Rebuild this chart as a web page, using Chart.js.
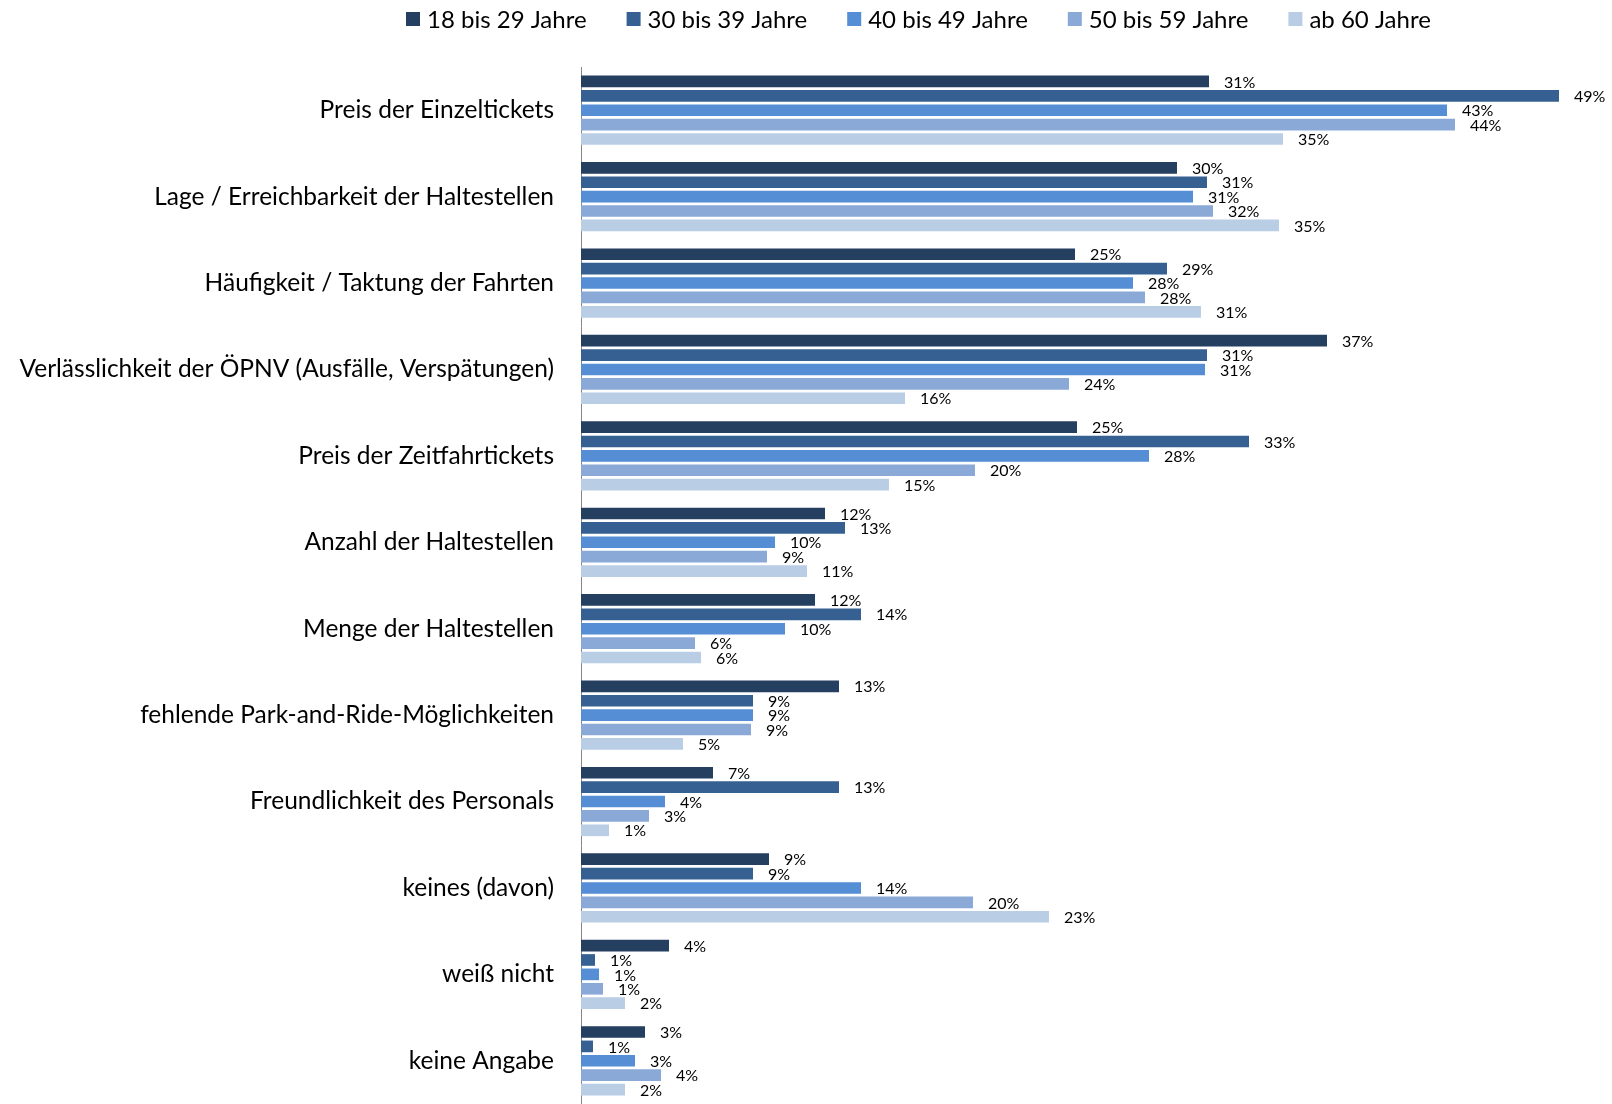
<!DOCTYPE html>
<html lang="de">
<head>
<meta charset="utf-8">
<title>Gründe nach Altersgruppen</title>
<script src="https://cdn.jsdelivr.net/npm/chart.js@4.4.0/dist/chart.umd.min.js"></script>
<style>
  html, body { margin: 0; padding: 0; background: #fff; overflow: hidden; }
  canvas { display: block; }
</style>
</head>
<body>
<canvas id="chart" width="1612" height="1104"></canvas>
<script>
// Kategorien (y-Achse)
const kategorien = [
  "Preis der Einzeltickets",
  "Lage / Erreichbarkeit der Haltestellen",
  "Häufigkeit / Taktung der Fahrten",
  "Verlässlichkeit der ÖPNV (Ausfälle, Verspätungen)",
  "Preis der Zeitfahrtickets",
  "Anzahl der Haltestellen",
  "Menge der Haltestellen",
  "fehlende Park-and-Ride-Möglichkeiten",
  "Freundlichkeit des Personals",
  "keines (davon)",
  "weiß nicht",
  "keine Angabe",
];

const altersgruppen = ["18 bis 29 Jahre", "30 bis 39 Jahre", "40 bis 49 Jahre", "50 bis 59 Jahre", "ab 60 Jahre"];
const farben = ["#243F60", "#376092", "#558ED5", "#8AA9D6", "#B9CDE5"];

// Anteile in Prozent
const werte18bis29 = [31.4, 29.8, 24.7, 37.3, 24.8, 12.2, 11.7, 12.9, 6.6, 9.4, 4.4, 3.2];
const werte30bis39 = [48.9, 31.3, 29.3, 31.3, 33.4, 13.2, 14.0, 8.6, 12.9, 8.6, 0.7, 0.6];
const werte40bis49 = [43.3, 30.6, 27.6, 31.2, 28.4, 9.7, 10.2, 8.6, 4.2, 14.0, 0.9, 2.7];
const werte50bis59 = [43.7, 31.6, 28.2, 24.4, 19.7, 9.3, 5.7, 8.5, 3.4, 19.6, 1.1, 4.0];
const werteAb60 = [35.1, 34.9, 31.0, 16.2, 15.4, 11.3, 6.0, 5.1, 1.4, 23.4, 2.2, 2.2];

const reihen = [werte18bis29, werte30bis39, werte40bis49, werte50bis59, werteAb60];

const schrift = "Lato";

// Legende oben, eigene Zeichnung
const legende = {
  id: "legende",
  afterDraw(chart) {
    const ctx = chart.ctx;
    ctx.save();
    ctx.font = "24px " + schrift;
    ctx.textBaseline = "middle";
    ctx.textAlign = "left";
    let x = 406;
    const y = 19;
    chart.data.datasets.forEach((ds) => {
      ctx.fillStyle = ds.backgroundColor;
      ctx.fillRect(x, y - 7, 14, 14);
      ctx.fillStyle = "#000";
      ctx.fillText(ds.label, x + 21, y + 1);
      x += 21 + ctx.measureText(ds.label).width + 40;
    });
    ctx.restore();
  },
};

// Prozentwerte hinter den Balken
const werteLabels = {
  id: "werteLabels",
  afterDatasetsDraw(chart) {
    const ctx = chart.ctx;
    ctx.save();
    ctx.font = "16px " + schrift;
    ctx.fillStyle = "#000";
    ctx.textBaseline = "middle";
    ctx.textAlign = "left";
    chart.data.datasets.forEach((ds, i) => {
      chart.getDatasetMeta(i).data.forEach((bar, j) => {
        ctx.fillText(Math.round(ds.data[j]) + "%", bar.x + 15, bar.y + 1);
      });
    });
    ctx.restore();
  },
};

const ctx = document.getElementById("chart").getContext("2d");

new Chart(ctx, {
  type: "bar",
  data: {
    labels: kategorien,
    datasets: altersgruppen.map((name, i) => ({
      label: name,
      data: reihen[i],
      backgroundColor: farben[i],
      categoryPercentage: 0.833,
      barPercentage: 0.81,
    })),
  },
  options: {
    indexAxis: "y",
    responsive: false,
    animation: false,
    layout: { padding: { top: 67, right: 31, left: 0, bottom: 0 } },
    plugins: {
      legend: { display: false },
      tooltip: { enabled: false },
    },
    scales: {
      x: { min: 0, max: 50, display: false },
      y: {
        grid: { display: false, drawTicks: false },
        border: { display: true, color: "#868686", width: 1 },
        ticks: {
          color: "#000",
          font: { family: schrift, size: 24.5 },
          padding: 27,
        },
        afterFit(scale) {
          // feste Achsenposition, kein Randabstand oben/unten
          scale.width = 581;
          scale.paddingTop = 0;
          scale.paddingBottom = 0;
        },
      },
    },
  },
  plugins: [legende, werteLabels],
});
</script>
</body>
</html>
